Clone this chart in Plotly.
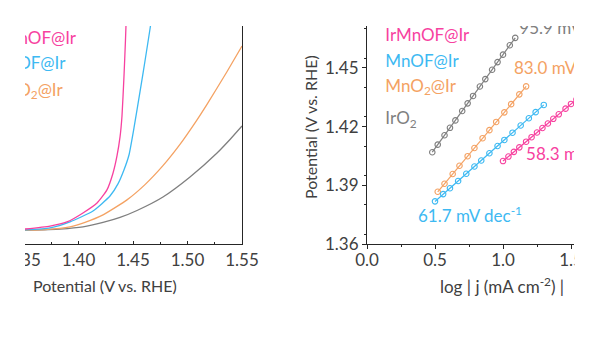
import plotly.graph_objects as go

# ---- LSV polarisation curves (V vs. RHE, current density in mA cm^-2) ----
lsv_v_irmnof = [1.3509, 1.3739, 1.3894, 1.4041, 1.4170, 1.4261, 1.4317, 1.4353, 1.4381, 1.4399, 1.4417, 1.4431, 1.4439]
lsv_j_irmnof = [0.10, 0.32, 0.62, 1.28, 2.01, 2.97, 4.21, 5.46, 6.86, 8.40, 11.26, 13.97, 15.81]

lsv_v_mnof = [1.3509, 1.3739, 1.3922, 1.4133, 1.4289, 1.4362, 1.4417, 1.4463, 1.4509, 1.4564, 1.4610, 1.4656, 1.4674]
lsv_j_mnof = [0.03, 0.18, 0.62, 1.42, 2.52, 3.41, 4.43, 5.53, 7.52, 10.16, 12.43, 14.78, 15.74]

lsv_v_mno2 = [1.3509, 1.3693, 1.3922, 1.4060, 1.4225, 1.4445, 1.4610, 1.4775, 1.4931, 1.5069, 1.5179, 1.5362, 1.5500]
lsv_j_mno2 = [0.02, 0.06, 0.26, 0.59, 1.14, 2.24, 3.36, 4.75, 6.31, 7.89, 9.25, 11.64, 13.53]

lsv_v_iro2 = [1.3509, 1.3830, 1.4041, 1.4225, 1.4381, 1.4537, 1.4775, 1.5023, 1.5271, 1.5390, 1.5500]
lsv_j_iro2 = [0.00, 0.09, 0.25, 0.58, 0.95, 1.46, 2.45, 3.92, 5.68, 6.67, 7.66]

# ---- Tafel data: log|j| (mA cm^-2) vs potential ----
tafel_lj_iro2 = [0.48, 0.52, 0.57, 0.61, 0.65, 0.70, 0.74, 0.78, 0.83, 0.87, 0.92, 0.96, 1.00, 1.05, 1.09]
tafel_e_iro2 = [1.4069, 1.4108, 1.4156, 1.4194, 1.4232, 1.4280, 1.4319, 1.4357, 1.4405, 1.4443, 1.4491, 1.4530, 1.4568, 1.4616, 1.4654]

tafel_lj_mno2 = [0.52, 0.57, 0.63, 0.68, 0.74, 0.79, 0.85, 0.90, 0.95, 1.01, 1.06, 1.12, 1.17]
tafel_e_mno2 = [1.3867, 1.3908, 1.3958, 1.4000, 1.4049, 1.4091, 1.4141, 1.4182, 1.4224, 1.4273, 1.4315, 1.4365, 1.4406]

tafel_lj_mnof = [0.50, 0.56, 0.61, 0.67, 0.73, 0.79, 0.84, 0.90, 0.96, 1.01, 1.07, 1.13, 1.19, 1.24, 1.30]
tafel_e_mnof = [1.3818, 1.3855, 1.3885, 1.3922, 1.3959, 1.3996, 1.4027, 1.4064, 1.4101, 1.4132, 1.4169, 1.4206, 1.4243, 1.4274, 1.4311]

tafel_lj_irmnof = [1.00, 1.04, 1.08, 1.12, 1.17, 1.21, 1.25, 1.29, 1.33, 1.37, 1.41, 1.46, 1.50, 1.54, 1.58, 1.62]
tafel_e_irmnof = [1.4024, 1.4047, 1.4071, 1.4094, 1.4123, 1.4146, 1.4170, 1.4193, 1.4216, 1.4240, 1.4263, 1.4292, 1.4316, 1.4339, 1.4362, 1.4385]

# Tafel slopes (mV dec^-1) and fit intercepts (V at log|j| = 0)
tafel_slope = {"IrO2": 95.9, "MnO2@Ir": 83.0, "MnOF@Ir": 61.7, "IrMnOF@Ir": 58.3}
tafel_icpt = {"IrO2": 1.3609, "MnO2@Ir": 1.3435, "MnOF@Ir": 1.3509, "IrMnOF@Ir": 1.3441}

PINK = "#F7419F"
BLUE = "#3DB9F2"
ORANGE = "#F4A263"
GRAY = "#7F7F7F"
AXIS = "#262626"
TXT = "#404040"
FONT = "Lato"
LBL = 17

fig = go.Figure()

# left panel: LSV curves
for v, j, c in [(lsv_v_iro2, lsv_j_iro2, GRAY), (lsv_v_mno2, lsv_j_mno2, ORANGE),
                (lsv_v_mnof, lsv_j_mnof, BLUE), (lsv_v_irmnof, lsv_j_irmnof, PINK)]:
    fig.add_trace(go.Scatter(x=v, y=j, mode="lines",
                             line=dict(color=c, width=1.3, shape="spline", smoothing=0.5),
                             xaxis="x", yaxis="y", showlegend=False, hoverinfo="skip"))

# left panel legend labels
fig.add_trace(go.Scatter(
    x=[1.3208, 1.3208, 1.3208], y=[13.97, 12.12, 10.2], mode="text",
    text=["IrMnOF@Ir", "MnOF@Ir", "MnO<sub>2</sub>@Ir"], textposition="middle right",
    textfont=dict(family=FONT, size=LBL, color=[PINK, BLUE, ORANGE]),
    xaxis="x", yaxis="y", showlegend=False, hoverinfo="skip", cliponaxis=True))

# right panel: Tafel points with fitted lines
series = [("IrO2", tafel_lj_iro2, tafel_e_iro2, GRAY),
          ("MnO2@Ir", tafel_lj_mno2, tafel_e_mno2, ORANGE),
          ("MnOF@Ir", tafel_lj_mnof, tafel_e_mnof, BLUE),
          ("IrMnOF@Ir", tafel_lj_irmnof, tafel_e_irmnof, PINK)]
for name, lj, e, c in series:
    xs = [lj[0], lj[-1]]
    ys = [tafel_icpt[name] + tafel_slope[name] / 1000 * x for x in xs]
    fig.add_trace(go.Scatter(x=xs, y=ys, mode="lines", line=dict(color=c, width=1.2),
                             xaxis="x2", yaxis="y2", showlegend=False, hoverinfo="skip"))
    fig.add_trace(go.Scatter(x=lj, y=e, mode="markers",
                             marker=dict(symbol="circle-open", size=5.5, color=c, line=dict(width=1.1)),
                             xaxis="x2", yaxis="y2", showlegend=False, hoverinfo="skip"))

# right panel legend labels
fig.add_trace(go.Scatter(
    x=[0.135, 0.135, 0.135, 0.135], y=[1.4660, 1.4527, 1.4400, 1.4234], mode="text",
    text=["IrMnOF@Ir", "MnOF@Ir", "MnO<sub>2</sub>@Ir", "IrO<sub>2</sub>"], textposition="middle right",
    textfont=dict(family=FONT, size=LBL, color=[PINK, BLUE, ORANGE, GRAY]),
    xaxis="x2", yaxis="y2", showlegend=False, hoverinfo="skip", cliponaxis=True))

# slope labels
slope_pos = {"IrO2": (1.12, 1.4696, GRAY), "MnO2@Ir": (1.08, 1.4492, ORANGE),
             "IrMnOF@Ir": (1.17, 1.4052, PINK), "MnOF@Ir": (0.375, 1.3735, BLUE)}
for name, (x, y, c) in slope_pos.items():
    fig.add_trace(go.Scatter(
        x=[x], y=[y], mode="text", text=[f"{tafel_slope[name]:.1f} mV dec<sup>-1</sup>"],
        textposition="middle right", textfont=dict(family=FONT, size=LBL, color=c),
        xaxis="x2", yaxis="y2", showlegend=False, hoverinfo="skip", cliponaxis=True))

W, H = 600, 338
ydom = [(H - 244) / H, (H - 26) / H]

fig.update_layout(
    width=W, height=H, margin=dict(l=0, r=0, t=0, b=0, pad=0, autoexpand=False),
    paper_bgcolor="white", plot_bgcolor="white",
    font=dict(family=FONT, size=16, color=TXT),
    xaxis=dict(domain=[24 / W, 242 / W], range=[1.35, 1.55], dtick=0.05, tick0=1.35,
               tickformat=".2f", ticks="inside", ticklen=3, tickcolor=AXIS, automargin=False,
               minor=dict(dtick=0.025, ticks="inside", ticklen=2, tickcolor=AXIS),
               showline=True, linecolor=AXIS, linewidth=1.2, showgrid=False, zeroline=False,
               anchor="y", tickfont=dict(family=FONT, size=17, color=TXT)),
    yaxis=dict(domain=ydom, range=[-1, 15], showticklabels=False, ticks="", automargin=False,
               showline=True, mirror=True, linecolor=AXIS, linewidth=1.4,
               showgrid=False, zeroline=False, anchor="x"),
    xaxis2=dict(domain=[367 / W, 574 / W], range=[0, 207 / 136], dtick=0.5, tick0=0,
                tickformat=".1f", ticks="outside", ticklen=4, tickcolor=AXIS, automargin=False,
                ticklabelstandoff=-4,
                minor=dict(dtick=0.25, ticks="outside", ticklen=2, tickcolor=AXIS),
                showline=True, linecolor=AXIS, linewidth=1.2, showgrid=False, zeroline=False,
                anchor="y2", tickfont=dict(family=FONT, size=17, color=TXT)),
    yaxis2=dict(domain=ydom, range=[1.36, 1.36 + 218 / 1956], dtick=0.03, tick0=1.36,
                tickformat=".2f", ticks="outside", ticklen=4, tickcolor=AXIS, automargin=False,
                minor=dict(dtick=0.015, ticks="outside", ticklen=2, tickcolor=AXIS),
                showline=True, linecolor=AXIS, linewidth=1.2, showgrid=False, zeroline=False,
                anchor="x2", tickfont=dict(family=FONT, size=17, color=TXT)),
    shapes=[
        dict(type="rect", xref="paper", yref="paper", x0=0, x1=25 / W, y0=0, y1=1,
             fillcolor="white", line=dict(width=0), layer="above"),
        dict(type="rect", xref="paper", yref="paper", x0=574.5 / W, x1=1, y0=0, y1=1,
             fillcolor="white", line=dict(width=0), layer="above"),
    ],
    annotations=[
        dict(text="Potential (V vs. RHE)", xref="paper", yref="paper", x=105 / W, y=1 - 285 / H,
             showarrow=False, xanchor="center", yanchor="middle", font=dict(family=FONT, size=16, color=TXT)),
        dict(text="log\u00a0| j (mA cm<sup>-2</sup>)\u00a0|", xref="paper", yref="paper",
             x=502 / W, y=1 - 285 / H,
             showarrow=False, xanchor="center", yanchor="middle", font=dict(family=FONT, size=17, color=TXT)),
        dict(text="Potential (V vs. RHE)", xref="paper", yref="paper", x=310 / W, y=1 - 127 / H,
             showarrow=False, xanchor="center", yanchor="middle", textangle=-90,
             font=dict(family=FONT, size=16, color=TXT)),
    ],
)

fig.write_html("out.html")
